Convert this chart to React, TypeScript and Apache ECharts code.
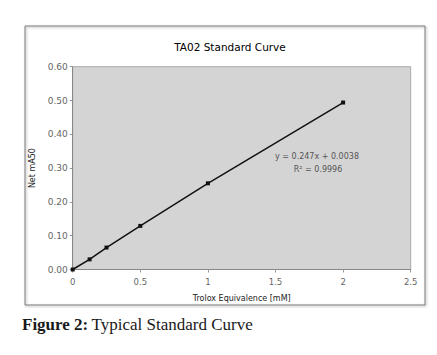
import React, { useEffect, useRef } from "react";
import * as echarts from "echarts";

const xValues = [0, 0.125, 0.25, 0.5, 1, 2];
const yValues = [0, 0.03, 0.065, 0.129, 0.255, 0.494];
const xTicks = ["0", "0.5", "1", "1.5", "2", "2.5"];
const chartTitle = "TA02 Standard Curve";
const xName = "Trolox Equivalence [mM]";
const yName = "Net mA50";
const equation = "y = 0.247x + 0.0038";
const rSquared = "R² = 0.9996";

const SANS = "DejaVu Sans, Verdana, sans-serif";

export default function App() {
  const ref = useRef<HTMLDivElement>(null);
  useEffect(() => {
    if (!ref.current) return;
    const chart = echarts.init(ref.current, null, { renderer: "svg" });
    const data = xValues.map((x, i) => [x, yValues[i]]);
    chart.setOption({
      animation: false,
      backgroundColor: "#ffffff",
      title: {
        text: chartTitle,
        left: 225,
        textAlign: "center",
        top: 36,
        textStyle: { fontSize: 10.5, fontWeight: "normal", color: "#000", fontFamily: SANS },
      },
      grid: {
        left: 72.7,
        top: 66.7,
        right: 26.3,
        bottom: 85.5,
        show: true,
        backgroundColor: "#d4d4d4",
        borderColor: "#a8a8a8",
        borderWidth: 1,
      },
      xAxis: {
        type: "value",
        min: 0,
        max: 2.5,
        interval: 0.5,
        name: xName,
        nameLocation: "middle",
        nameGap: 25,
        nameTextStyle: { fontSize: 8, color: "#222", fontFamily: SANS },
        splitLine: { show: false },
        axisLine: { lineStyle: { color: "#888" } },
        axisTick: { show: true, length: 3, lineStyle: { color: "#999" } },
        axisLabel: {
          fontSize: 8.5,
          color: "#666",
          margin: 8,
          fontFamily: SANS,
          formatter: (v: number) => xTicks[Math.round(v / 0.5)] ?? String(v),
        },
      },
      yAxis: {
        type: "value",
        min: 0,
        max: 0.6,
        interval: 0.1,
        name: yName,
        nameLocation: "middle",
        nameGap: 35,
        nameRotate: 90,
        nameTextStyle: { fontSize: 8, color: "#222", fontFamily: SANS },
        splitLine: { show: false },
        axisLine: { show: true, lineStyle: { color: "#888" } },
        axisTick: { show: true, length: 3, lineStyle: { color: "#999" } },
        axisLabel: {
          fontSize: 9,
          color: "#666",
          margin: 5,
          fontFamily: SANS,
          formatter: (v: number) => v.toFixed(2),
        },
      },
      series: [
        {
          type: "line",
          data,
          symbol: "rect",
          symbolSize: 4,
          lineStyle: { color: "#111", width: 1.5 },
          itemStyle: { color: "#111" },
        },
      ],
      graphic: [
        {
          type: "rect",
          shape: { x: 25, y: 26, width: 400, height: 279 },
          style: { fill: "none", stroke: "#7a7a7a", lineWidth: 1, shadowBlur: 2, shadowOffsetX: 1, shadowOffsetY: 1, shadowColor: "rgba(0,0,0,0.35)" },
          z: -1,
          silent: true,
        },
        {
          type: "text",
          x: 317,
          y: 156,
          style: { text: equation, fontSize: 8, fill: "#555", align: "center", verticalAlign: "middle", fontFamily: SANS },
        },
        {
          type: "text",
          x: 318,
          y: 169,
          style: { text: rSquared, fontSize: 8, fill: "#555", align: "center", verticalAlign: "middle", fontFamily: SANS },
        },
        {
          type: "text",
          x: 22,
          y: 324,
          style: {
            text: "{b|Figure 2:} {n|Typical Standard Curve}",
            verticalAlign: "middle",
            rich: {
              b: { fontSize: 17, fontWeight: "bold", fill: "#1a1a1a", fontFamily: "Liberation Serif, Times New Roman, serif" },
              n: { fontSize: 17, fill: "#1a1a1a", fontFamily: "Liberation Serif, Times New Roman, serif" },
            },
          },
        },
      ],
    });
    return () => chart.dispose();
  }, []);
  return (
    <div
      ref={ref}
      style={{ position: "absolute", left: 0, top: 0, width: 437, height: 355 }}
    />
  );
}
